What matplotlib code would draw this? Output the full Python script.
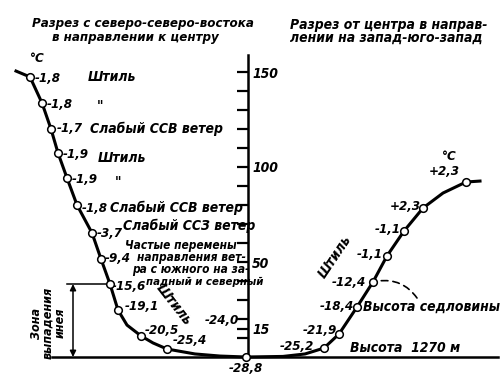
import matplotlib
matplotlib.use("Agg")
import matplotlib.pyplot as plt

# профиль с ССВ к центру: расстояние (усл. ед.), высота, температура
left_x = [30, 42, 51, 58, 67, 77, 92, 101, 110, 118, 141, 167, 246]
left_h = [147.4, 133.7, 120.0, 107.4, 94.2, 80.0, 65.3, 51.6, 38.4, 24.7, 11.1, 4.2, 0.0]
left_t = ["-1,8", "-1,8", "-1,7", "-1,9", "-1,9", "-1,8", "-3,7", "-9,4",
          "-15,6", "-19,1", "-20,5", "-25,4", "-28,8"]
# линия профиля (точки)
left_line_x = [16, 30, 42, 51, 58, 67, 77, 92, 101, 110, 118, 127, 141, 153, 167, 195, 220, 246]
left_line_h = [150.5, 147.4, 133.7, 120.0, 107.4, 94.2, 80.0, 65.3, 51.6, 38.4, 24.7,
               16.8, 11.1, 7.4, 4.2, 1.6, 0.5, 0.0]

# профиль от центра на ЗЮЗ
right_x = [324, 339, 357, 373, 387, 404, 423, 466]
right_h = [4.7, 12.1, 26.3, 39.5, 53.2, 66.3, 78.4, 92.1]
right_t = ["-25,2", "-21,9", "-18,4", "-12,4", "-1,1", "-1,1", "+2,3", "+2,3"]
right_line_x = [246, 283, 305, 324, 339, 357, 373, 387, 404, 423, 443, 466, 480]
right_line_h = [0.0, 0.3, 1.6, 4.7, 12.1, 26.3, 39.5, 53.2, 66.3, 78.4, 86.3, 92.1, 92.6]

ticks = [10, 15, 20, 30, 40, 50, 60, 70, 80, 90, 100, 110, 120, 130, 140, 150]
tick_labels = {15: "15", 50: "50", 100: "100", 150: "150"}


def H(py):
    # пиксельная строка рисунка -> высота по шкале
    return (357 - py) / 1.9


plt.rcParams['font.family'] = ['DejaVu Sans']
plt.rcParams['font.style'] = 'italic'
plt.rcParams['font.stretch'] = 'condensed'
plt.rcParams['font.weight'] = 'bold'

fig = plt.figure(figsize=(5, 3.86), dpi=100)
ax = fig.add_axes([0, 0, 1, 1])
ax.set_xlim(0, 500)
ax.set_ylim(H(386), H(0))

for s in ['left', 'top', 'bottom']:
    ax.spines[s].set_visible(False)
ax.spines['right'].set_position(('data', 248))
ax.spines['right'].set_bounds(0, H(55))
ax.spines['right'].set_linewidth(1.8)
ax.yaxis.tick_right()
ax.set_xticks([])
ax.set_yticks(ticks)
ax.set_yticklabels([tick_labels.get(t, "") for t in ticks], fontsize=10)
ax.tick_params(axis='y', direction='in', length=8, width=1.6, pad=3)

# основание
ax.plot([52, 498], [0, 0], color='black', lw=1.8, zorder=2)

# кривые
ax.plot(left_line_x, left_line_h, color='black', lw=2.2, zorder=3)
ax.plot(right_line_x, right_line_h, color='black', lw=2.2, zorder=3)
ax.plot(left_x, left_h, 'o', ms=5.5, mfc='white', mec='black', mew=1.1, zorder=4)
ax.plot(right_x, right_h, 'o', ms=5.5, mfc='white', mec='black', mew=1.1, zorder=4)

# зона выпадения инея
ax.plot([67, left_x[8]], [left_h[8], left_h[8]], color='black', lw=1.1)
ax.annotate('', xy=(73, 0), xytext=(73, left_h[8]),
            arrowprops=dict(arrowstyle='<|-|>', color='black', lw=1.1,
                            mutation_scale=9, shrinkA=0, shrinkB=0))
ax.text(48, H(323), "Зона\nвыпадения\nинея", rotation=90, ha='center', va='center',
        fontsize=9, linespacing=0.9)

# выноска к высоте седловины
ax.annotate('', xy=(right_x[3] + 5, right_h[3] + 0.5), xytext=(417, H(298)),
            arrowprops=dict(arrowstyle='-', color='black', lw=1.2, linestyle=(0, (4, 3)),
                            connectionstyle='arc3,rad=0.3', shrinkA=0, shrinkB=0))

fs = 9.5
tk = dict(fontsize=fs, va='center', ha='left')
wk = dict(fontsize=10, va='center', ha='left')
sk = dict(fontsize=8.6, va='center', ha='left')

# заголовки
ax.text(32, H(24), "Разрез с северо-северо-востока", fontsize=9.5, va='center')
ax.text(52, H(38), "в направлении к центру", fontsize=9.5, va='center')
ax.text(290, H(25), "Разрез от центра в направ-", fontsize=10, va='center')
ax.text(290, H(38), "лении на запад-юго-запад", fontsize=10, va='center')

# подписи температур слева
left_label_pos = [(35, 78), (47, 104), (57, 129), (63, 155), (72, 180), (82, 208),
                  (97, 234), (105, 259), (112, 286), (125, 307), (145, 330), (173, 340)]
for t, (px, py) in zip(left_t[:-1], left_label_pos):
    ax.text(px, H(py), t, **tk)
ax.text(246, H(368), left_t[-1], fontsize=fs, ha='center', va='center')
ax.text(205, H(320), "-24,0", **tk)
ax.text(30, H(59), "°C", **tk)
ax.text(442, H(157), "°C", **tk)

# ветер
ax.text(88, H(77), "Штиль", **wk)
ax.text(97, H(106), '"', **wk)
ax.text(90, H(129), "Слабый ССВ ветер", **wk)
ax.text(98, H(158), "Штиль", **wk)
ax.text(115, H(182), '"', **wk)
ax.text(110, H(208), "Слабый ССВ ветер", **wk)
ax.text(123, H(226), "Слабый ССЗ ветер", **wk)
ax.text(125, H(245), "Частые перемены", **sk)
ax.text(137, H(258), "направления вет-", **sk)
ax.text(132, H(270), "ра с южного на за-", **sk)
ax.text(146, H(282), "падный и северный", fontsize=8.2, va='center', ha='left')
ax.text(174, H(305), "Штиль", fontsize=10, rotation=-52, ha='center', va='center')

# подписи справа
right_label_pos = [(280, 346), (303, 331), (320, 307), (332, 282), (357, 255),
                   (375, 230), (390, 206), (429, 172)]
for t, (px, py) in zip(right_t, right_label_pos):
    ax.text(px, H(py), t, **tk)
ax.text(335, H(257), "Штиль", fontsize=10, rotation=56, ha='center', va='center')
ax.text(363, H(307), "Высота седловины", **wk)
ax.text(350, H(348), "Высота  1270 м", **wk)

fig.savefig("out.png", dpi=100)
